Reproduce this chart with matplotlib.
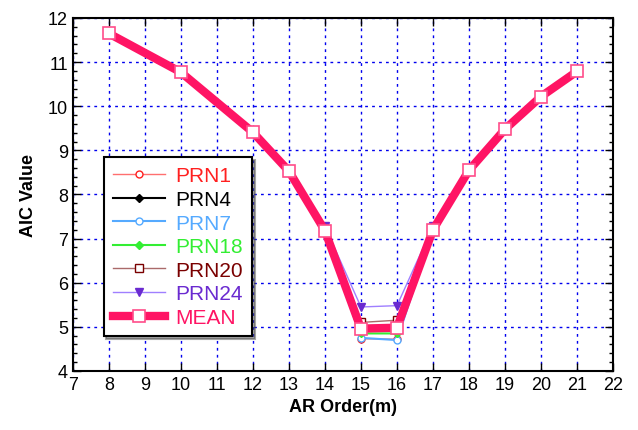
import matplotlib.pyplot as plt
from matplotlib.ticker import MultipleLocator

plt.rcParams['font.family'] = ['Liberation Sans', 'DejaVu Sans']

order = [8, 10, 12, 13, 14, 15, 16, 17, 18, 19, 20, 21]
prn1 = [11.65, 10.77, 9.41, 8.53, 7.18, 4.73, 4.72, 7.18, 8.55, 9.48, 10.22, 10.79]
prn4 = [11.65, 10.77, 9.41, 8.53, 7.18, 4.90, 4.92, 7.18, 8.55, 9.48, 10.22, 10.79]
prn7 = [11.65, 10.77, 9.41, 8.53, 7.18, 4.75, 4.70, 7.18, 8.55, 9.48, 10.22, 10.79]
prn18 = [11.65, 10.77, 9.41, 8.53, 7.18, 4.85, 4.85, 7.18, 8.55, 9.48, 10.22, 10.79]
prn20 = [11.65, 10.77, 9.41, 8.53, 7.18, 5.10, 5.15, 7.18, 8.55, 9.48, 10.22, 10.79]
prn24 = [11.65, 10.77, 9.41, 8.53, 7.28, 5.45, 5.48, 7.28, 8.55, 9.48, 10.22, 10.79]
mean = [11.65, 10.77, 9.41, 8.53, 7.18, 4.96, 4.98, 7.20, 8.55, 9.48, 10.22, 10.79]

fig = plt.figure(figsize=(6.38, 4.31), dpi=100)
ax = fig.add_axes([0.114, 0.137, 0.847, 0.819])

ax.plot(order, prn1, color='#ff6f6f', lw=1, marker='o', ms=5, mfc='white', mec='#ff2020', label='PRN1')
ax.plot(order, prn4, color='black', lw=1.5, marker='D', ms=4, mfc='black', mec='black', label='PRN4')
ax.plot(order, prn7, color='#55aaff', lw=1.5, marker='o', ms=5, mfc='white', mec='#55aaff', label='PRN7')
ax.plot(order, prn18, color='#33ee33', lw=1.5, marker='D', ms=4, mfc='#33ee33', mec='#33ee33', label='PRN18')
ax.plot(order, prn20, color='#aa6a6a', lw=1, marker='s', ms=6, mfc='white', mec='#7a0000', label='PRN20')
ax.plot(order, prn24, color='#9f7fff', lw=1, marker='v', ms=6, mfc='#6a2ad0', mec='#6a2ad0', label='PRN24')
ax.plot(order, mean, color='#ff1464', lw=6, marker='s', ms=8, mfc='white', mec='#ff4d8a', mew=1.2, label='MEAN')

ax.set_xlim(7, 22)
ax.set_ylim(4, 12)
ax.xaxis.set_major_locator(MultipleLocator(1))
ax.yaxis.set_major_locator(MultipleLocator(1))
ax.yaxis.set_minor_locator(MultipleLocator(0.2))
ax.tick_params(which='both', direction='in', top=True, right=True, labelsize=13)
ax.tick_params(which='major', length=6, width=1)
ax.tick_params(which='minor', length=3, width=1)
ax.grid(True, which='major', color='#0000ee', linestyle=(0, (2, 3)), lw=1)
for s in ax.spines.values():
    s.set_linewidth(1.5)

ax.set_xlabel('AR Order(m)', fontsize=13, fontweight='bold')
ax.set_ylabel('AIC Value', fontsize=13, fontweight='bold', labelpad=8)

leg = ax.legend(loc='upper left', bbox_to_anchor=(0.057, 0.606), borderaxespad=0,
                fontsize=15, fancybox=False, shadow=True, framealpha=1, edgecolor='black',
                handlelength=2.5, handletextpad=0.5, labelspacing=0.22, borderpad=0.45)
leg.get_frame().set_linewidth(1.5)
text_colors = ['#ff2020', 'black', '#55aaff', '#33ee33', '#7a0000', '#6a2ad0', '#ff1464']
for t, c in zip(leg.get_texts(), text_colors):
    t.set_color(c)

fig.savefig('out.png', dpi=100)
